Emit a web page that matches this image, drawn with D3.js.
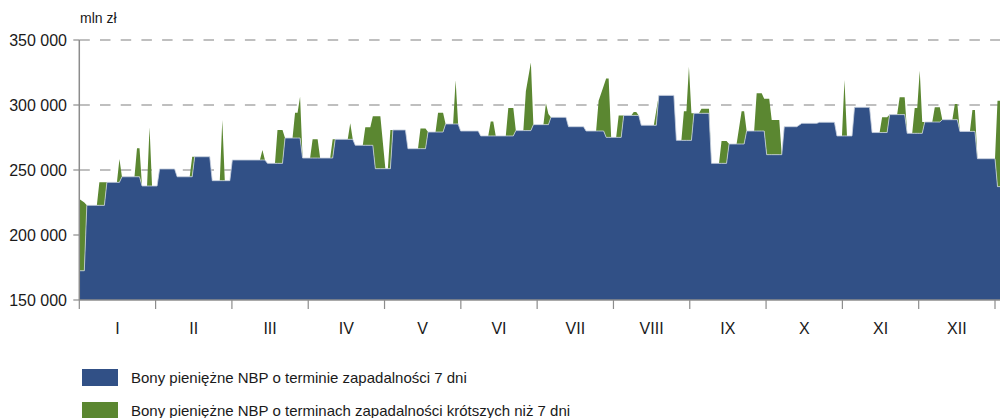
<!DOCTYPE html>
<html>
<head>
<meta charset="utf-8">
<script src="https://cdn.jsdelivr.net/npm/d3@7"></script>
<style>
  body { margin: 0; background: #fff; }
  text { font-family: "Liberation Sans", Arial, sans-serif; fill: #1a1a1a; }
</style>
</head>
<body>
<div id="chart"></div>
<script>
// dzien roku (0 = 1 stycznia), wartosci w mln zl
var dzien = [
  0,2,3,7,8,10,11,15,16,17,
  22,23,24,25,27,28,29,31,32,38,
  39,44,45,46,52,53,56,57,58,60,
  61,72,73,74,75,78,79,81,82,85,
  86,87,88,89,92,93,95,96,100,101,
  102,107,108,109,110,113,114,116,117,118,
  120,122,123,124,125,130,131,135,136,138,
  139,142,143,145,146,149,150,151,152,159,
  160,163,164,165,166,170,171,173,174,177,
  178,180,181,185,186,187,188,194,195,201,
  202,206,207,209,210,211,212,214,215,216,
  217,220,221,222,223,224,229,230,231,237,
  238,240,241,242,243,244,245,247,248,251,
  252,255,256,258,259,262,264,265,266,269,
  270,272,273,274,275,276,279,280,281,286,
  288,294,295,301,302,304,305,306,308,309,
  315,316,319,320,322,323,326,327,329,330,
  332,333,334,335,336,337,340,341,343,344,
  348,349,350,351,355,356,357,358,365,366,
  367];

var bony7 = [
  172500,172500,222800,222800,222800,222800,240500,240500,240500,244800,
  244800,244800,244800,237700,237700,237700,237700,237700,250800,250800,
  244800,244800,244800,260200,260200,241800,241800,241800,241800,241800,
  257700,257700,257700,257700,255100,255100,255100,255100,274600,274600,
  274600,274600,274600,259200,259200,259200,259200,259200,259200,259200,
  273600,273600,273600,273600,269000,269000,269000,269000,269000,251000,
  251000,251000,251000,251000,280800,280800,266400,266400,266400,266400,
  279200,279200,279200,279200,285400,285400,285400,285400,280000,280000,
  276200,276200,276200,276200,276200,276200,276200,276200,280300,280300,
  280300,280300,284900,284900,284900,284900,290500,290500,283300,283300,
  280000,280000,280000,280000,275100,275100,275100,275100,275100,275100,
  292000,292000,292000,292000,292000,284400,284400,284400,307400,307400,
  272800,272800,272800,272800,272800,272800,293600,293600,293600,293600,
  255100,255100,255100,255100,270000,270000,270000,270000,280000,280000,
  280000,280000,280000,261800,261800,261800,261800,261800,283300,283300,
  285900,285900,286700,286700,276200,276200,276200,276200,276200,298200,
  298200,278800,278800,278800,278800,292600,292600,292600,292600,278200,
  278200,278200,278200,278200,278200,286900,286900,286900,286900,288700,
  288700,288700,288700,279700,279700,279700,279700,258700,258700,237200,
  237200];

var bonyKrotsze = [
  55200,52500,0,0,17700,17700,0,0,18000,0,
  0,21900,21900,0,0,45100,0,0,0,0,
  0,0,15400,0,0,0,0,46700,0,0,
  0,0,7700,0,0,0,25700,25700,0,0,
  19500,19500,31800,0,0,14400,14400,0,0,14400,
  0,0,12300,0,0,0,13800,13800,22300,40300,
  40300,0,0,29800,0,0,0,0,15600,15600,
  0,0,14900,14900,0,0,33600,0,0,0,
  0,0,11200,11200,0,0,21500,21500,0,0,
  30200,52300,0,0,16400,8100,0,0,0,0,
  0,0,23300,34600,45200,45200,0,0,16900,16900,
  0,0,2600,2600,0,0,0,11600,0,0,
  0,0,22300,22300,56700,20800,0,0,3600,3600,
  0,0,17200,17200,0,0,25100,25100,0,0,
  29000,29000,24900,43100,43100,26700,26700,0,0,0,
  0,0,0,0,0,0,43000,0,0,0,
  0,0,0,11700,11700,0,0,13300,13300,0,
  0,19500,19500,48200,8700,0,0,11300,11300,0,
  0,12100,12100,0,0,16500,16500,0,0,66100,
  66100];

var miesiace = ["I","II","III","IV","V","VI","VII","VIII","IX","X","XI","XII"];
var yTicks = [150000, 200000, 250000, 300000, 350000];
var yTickLabels = ["150 000", "200 000", "250 000", "300 000", "350 000"];
var serie = ["Bony pieniężne NBP o terminie zapadalności 7 dni",
             "Bony pieniężne NBP o terminach zapadalności krótszych niż 7 dni"];
var kolory = ["#315086", "#5b8731"];

var W = 1000, H = 418;
var plotL = 79.3, plotR = 995, plotT = 40, plotB = 300;

var data = dzien.map(function(d, i) {
  return {dzien: d, b7: bony7[i], bk: bonyKrotsze[i]};
});

var svg = d3.select("#chart").append("svg")
  .attr("width", W).attr("height", H);

var x = d3.scaleLinear().domain([0, 365]).range([plotL, plotR]);
var xm = d3.scaleBand().domain(miesiace).range([plotL, plotR]);
var y = d3.scaleLinear().domain([150000, 350000]).range([plotB, plotT]);

// siatka pozioma (przerywana)
svg.append("g").selectAll("line")
  .data(yTicks.slice(1))
  .enter().append("line")
  .attr("x1", plotL).attr("x2", W)
  .attr("y1", function(d){ return y(d); })
  .attr("y2", function(d){ return y(d); })
  .attr("stroke", "#808080")
  .attr("stroke-width", 1.2)
  .attr("stroke-dasharray", "10.5,10.2");

var stack = d3.stack().keys(["b7", "bk"]);
var warstwy = stack(data);

var area = d3.area()
  .x(function(d){ return x(d.data.dzien); })
  .y0(function(d){ return y(d[0]); })
  .y1(function(d){ return y(d[1]); });

svg.append("clipPath").attr("id", "clip")
  .append("rect").attr("x", plotL).attr("y", 0).attr("width", W - plotL).attr("height", plotB);

var g = svg.append("g").attr("clip-path", "url(#clip)");

g.selectAll("path.warstwa")
  .data(warstwy)
  .enter().append("path")
  .attr("class", "warstwa")
  .attr("d", area)
  .attr("fill", function(d, i){ return kolory[i]; });

// jasna krawedz
g.append("path")
  .datum(warstwy[0])
  .attr("d", d3.line()
    .x(function(d){ return x(d.data.dzien); })
    .y(function(d){ return y(d[1]); }))
  .attr("fill", "none")
  .attr("stroke", "#c8d0de")
  .attr("stroke-width", 0.8);

// os Y
svg.append("line")
  .attr("x1", plotL).attr("x2", plotL)
  .attr("y1", plotT).attr("y2", plotB)
  .attr("stroke", "#8c8c8c").attr("stroke-width", 1.5);

var yt = svg.append("g");
yt.selectAll("line").data(yTicks).enter().append("line")
  .attr("x1", plotL - 6).attr("x2", plotL)
  .attr("y1", function(d){ return y(d); })
  .attr("y2", function(d){ return y(d); })
  .attr("stroke", "#8c8c8c").attr("stroke-width", 1.2);
yt.selectAll("text").data(yTicks).enter().append("text")
  .attr("x", 67)
  .attr("y", function(d){ return y(d); })
  .attr("dy", "0.36em")
  .attr("text-anchor", "end")
  .style("font-size", "16px")
  .text(function(d, i){ return yTickLabels[i]; });

svg.append("text")
  .attr("x", 80).attr("y", 23)
  .style("font-size", "14px")
  .text("mln zł");

// os X
svg.append("line")
  .attr("x1", plotL).attr("x2", W)
  .attr("y1", plotB).attr("y2", plotB)
  .attr("stroke", "#8c8c8c").attr("stroke-width", 1.5);

var granice = miesiace.map(function(m){ return xm(m); }).concat([plotR]);
svg.append("g").selectAll("line").data(granice).enter().append("line")
  .attr("x1", function(d){ return d; }).attr("x2", function(d){ return d; })
  .attr("y1", plotB).attr("y2", plotB + 9)
  .attr("stroke", "#8c8c8c").attr("stroke-width", 1.2);

svg.append("g").selectAll("text").data(miesiace).enter().append("text")
  .attr("x", function(d){ return xm(d) + xm.bandwidth() / 2; })
  .attr("y", 334)
  .attr("text-anchor", "middle")
  .style("font-size", "16px")
  .text(function(d){ return d; });

// legenda
var leg = svg.append("g").selectAll("g").data(serie).enter().append("g")
  .attr("transform", function(d, i){ return "translate(82," + (369 + i * 33) + ")"; });
leg.append("rect")
  .attr("width", 36).attr("height", 17)
  .attr("fill", function(d, i){ return kolory[i]; });
leg.append("text")
  .attr("x", 49).attr("y", 14)
  .style("font-size", "15px")
  .text(function(d){ return d; });
</script>
</body>
</html>
